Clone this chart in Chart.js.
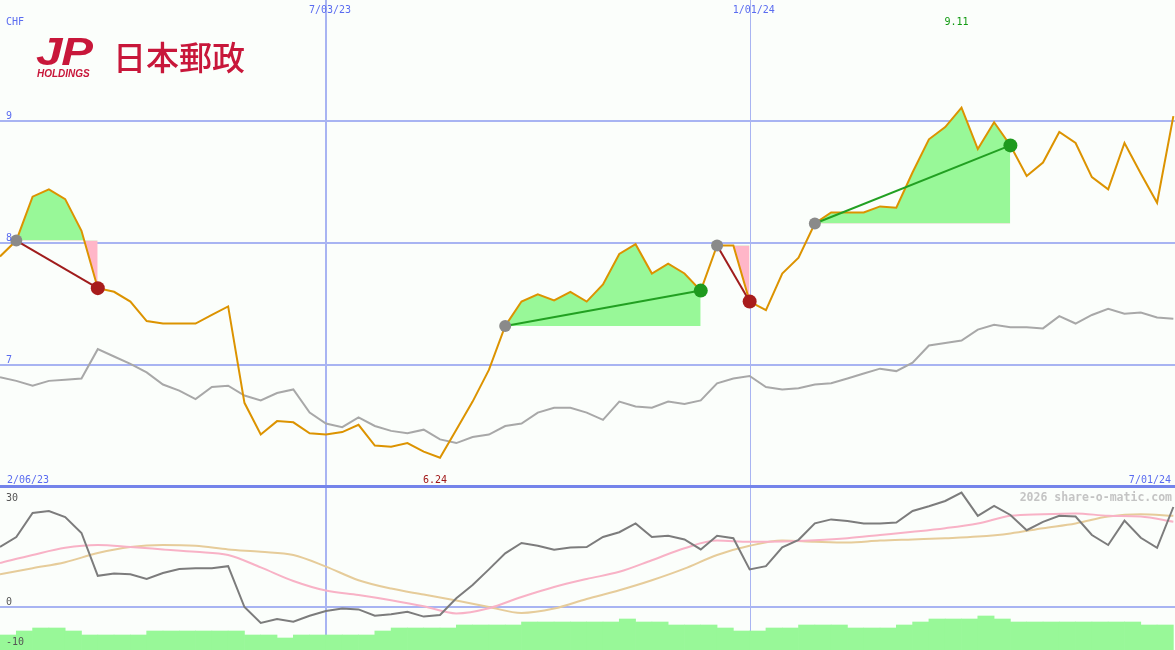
<!DOCTYPE html>
<html>
<head>
<meta charset="utf-8">
<script src="https://cdn.jsdelivr.net/npm/chart.js@4.4.1/dist/chart.umd.min.js"></script>
<style>
  body { margin: 0; background: #fbfefb; }
  #wrap { position: relative; width: 1175px; height: 650px; overflow: hidden; background: #fbfefb; }
  #priceChart { position: absolute; left: 0; top: 0; }
  #oscChart { position: absolute; left: 0; top: 487px; }
  .sep { position: absolute; left: 0; top: 485px; width: 1175px; height: 3px; background: #7484ea; }
  .logo { position: absolute; color: #c8173a; line-height: 1; white-space: nowrap; }
  .jp { left: 36px; top: 30px; font: italic bold 39px "Liberation Sans", sans-serif; letter-spacing: -1px; transform: scaleX(1.22); transform-origin: left top; }
  .hold { left: 37px; top: 68px; font: italic bold 10px "Liberation Sans", sans-serif; }
  .kanji { left: 113px; top: 32px; font: 500 33px "Noto Sans CJK JP", sans-serif; }
</style>
</head>
<body>
<div id="wrap">
  <canvas id="priceChart" width="1175" height="487"></canvas>
  <canvas id="oscChart" width="1175" height="163"></canvas>
  <div class="sep"></div>
  <div class="logo jp">JP</div>
  <div class="logo hold">HOLDINGS</div>
  <div class="logo kanji">日本郵政</div>
</div>
<script>
// weekly closes, CHF (week 0 = 13 Feb 2023 ... week 72 = 1 Jul 2024)
const priceClose = [
  7.89, 8.02, 8.38, 8.44, 8.36, 8.10, 7.63, 7.60, 7.52, 7.36,
  7.34, 7.34, 7.34, 7.41, 7.48, 6.69, 6.43, 6.54, 6.53, 6.44,
  6.43, 6.45, 6.51, 6.34, 6.33, 6.36, 6.29, 6.24, 6.47, 6.70,
  6.96, 7.32, 7.52, 7.58, 7.53, 7.60, 7.52, 7.66, 7.91, 7.99,
  7.75, 7.83, 7.75, 7.61, 7.98, 7.98, 7.52, 7.45, 7.75, 7.88,
  8.16, 8.25, 8.25, 8.25, 8.30, 8.29, 8.58, 8.85, 8.95, 9.11,
  8.77, 8.99, 8.80, 8.55, 8.66, 8.91, 8.82, 8.54, 8.44, 8.82,
  8.57, 8.33, 9.04
];
// comparison index, rebased to CHF
const peerIndex = [
  6.90, 6.87, 6.83, 6.87, 6.88, 6.89, 7.13, 7.07, 7.01, 6.94,
  6.84, 6.79, 6.72, 6.82, 6.83, 6.75, 6.71, 6.77, 6.80, 6.61,
  6.52, 6.49, 6.57, 6.50, 6.46, 6.44, 6.47, 6.39, 6.36, 6.41,
  6.43, 6.50, 6.52, 6.61, 6.65, 6.65, 6.61, 6.55, 6.70, 6.66,
  6.65, 6.70, 6.68, 6.71, 6.85, 6.89, 6.91, 6.82, 6.80, 6.81,
  6.84, 6.85, 6.89, 6.93, 6.97, 6.95, 7.02, 7.16, 7.18, 7.20,
  7.29, 7.33, 7.31, 7.31, 7.30, 7.40, 7.34, 7.41, 7.46, 7.42,
  7.43, 7.39, 7.38
];
const momentum = [
  15.0, 17.5, 23.5, 24.0, 22.5, 18.5, 7.8, 8.4, 8.2, 7.0,
  8.5, 9.5, 9.7, 9.7, 10.2, 0.0, -4.0, -3.0, -3.7, -2.2,
  -1.0, -0.4, -0.6, -2.2, -1.8, -1.2, -2.4, -2.0, 2.2, 5.5,
  9.4, 13.4, 16.0, 15.3, 14.3, 14.9, 15.0, 17.5, 18.7, 20.9,
  17.5, 17.8, 16.9, 14.4, 17.8, 17.2, 9.4, 10.2, 14.9, 16.8,
  20.9, 21.9, 21.5, 20.9, 20.9, 21.1, 24.0, 25.2, 26.5, 28.6,
  22.8, 25.3, 23.0, 19.2, 21.3, 22.8, 22.6, 18.0, 15.5, 21.6,
  17.3, 14.8, 25.0
];
const maWeeks = [0, 2, 4, 6, 8, 10, 12, 14, 16, 18, 20, 22, 24, 26, 28, 30, 32, 34, 36,
                 38, 40, 42, 44, 46, 48, 50, 52, 54, 56, 58, 60, 62, 64, 66, 68, 70, 72];
const maFast = [11.0, 13.0, 14.8, 15.5, 15.0, 14.4, 13.8, 13.0, 9.9, 6.5, 4.1, 3.0, 1.7, 0.2, -1.6, -0.3, 2.5, 5.0, 7.0,
                8.8, 11.7, 14.7, 16.6, 16.3, 16.4, 16.7, 17.2, 18.0, 18.8, 19.7, 20.9, 22.8, 23.2, 23.4, 22.8, 22.6, 21.3];
const maSlow = [8.2, 9.7, 11.2, 13.5, 15.0, 15.5, 15.3, 14.4, 13.8, 13.0, 10.1, 6.7, 4.6, 3.1, 1.6, 0.0, -1.5, -0.4, 2.0,
                4.2, 6.7, 9.6, 13.0, 15.3, 16.6, 16.3, 16.1, 16.6, 16.9, 17.2, 17.6, 18.4, 19.7, 20.9, 22.6, 23.2, 22.8];
const volume = [
  150, 190, 220, 220, 190, 150, 150, 150, 150, 190,
  190, 190, 190, 190, 190, 150, 150, 120, 150, 150,
  150, 150, 150, 190, 220, 220, 220, 220, 250, 250,
  250, 250, 280, 280, 280, 280, 280, 280, 310, 280,
  280, 250, 250, 250, 220, 190, 190, 220, 220, 250,
  250, 250, 220, 220, 220, 250, 280, 310, 310, 310,
  340, 310, 280, 280, 280, 280, 280, 280, 280, 280,
  250, 250
];
// signals: [entry week, exit week]
const trades = [[1, 6], [31, 43], [44, 46], [50, 62]];
const markWeeks = [20, 46];
const markLabels = ['7/03/23', '1/01/24'];
const priceTicks = [9, 8, 7];
const oscTicks = [30, 0, -10];
const startLabel = '2/06/23';
const endLabel = '7/01/24';

const FONT = '10px "DejaVu Sans Mono", monospace';
const BLUE = '#5a6cf0';
const GRID = '#a8b4f2';
const hiWeek = priceClose.indexOf(Math.max(...priceClose));
const loWeek = priceClose.indexOf(Math.min(...priceClose));
const pts = (arr, xs) => arr.map((v, i) => ({ x: xs ? xs[i] : i, y: v }));

function gridLayer(hVals) {
  return {
    id: 'gridLayer',
    beforeDatasetsDraw(chart) {
      const { ctx, chartArea: a, scales } = chart;
      ctx.save();
      ctx.strokeStyle = GRID;
      ctx.lineWidth = 2;
      hVals.forEach(v => {
        const y = Math.round(scales.y.getPixelForValue(v));
        ctx.beginPath(); ctx.moveTo(a.left, y); ctx.lineTo(a.right, y); ctx.stroke();
      });
      markWeeks.forEach((w, k) => {
        const x = Math.round(scales.x.getPixelForValue(w));
        ctx.lineWidth = k === 0 ? 2 : 1;
        const xx = k === 0 ? x : x + 0.5;
        ctx.beginPath(); ctx.moveTo(xx, a.top); ctx.lineTo(xx, a.bottom); ctx.stroke();
      });
      ctx.restore();
    }
  };
}

function textLayer(build) {
  return {
    id: 'textLayer',
    afterDatasetsDraw(chart) {
      const ctx = chart.ctx;
      ctx.save();
      build(chart).forEach(t => {
        ctx.font = t.font || FONT;
        ctx.fillStyle = t.color;
        ctx.textAlign = t.align || 'left';
        ctx.textBaseline = 'alphabetic';
        ctx.fillText(t.text, t.x, t.y);
      });
      ctx.restore();
    }
  };
}

const baseOpts = (yScales) => ({
  responsive: false,
  animation: false,
  events: [],
  layout: { padding: 0, autoPadding: false },
  plugins: { legend: { display: false }, tooltip: { enabled: false } },
  scales: Object.assign({ x: { type: 'linear', display: false, offset: false, min: 0, max: 72.1 } }, yScales)
});

// ---------- price panel ----------
const tradeLines = trades.map(([a, b]) => {
  const win = priceClose[b] > priceClose[a];
  return {
    data: [{ x: a, y: priceClose[a] }, { x: b, y: priceClose[b] }],
    borderColor: win ? '#22a022' : '#a01c1c',
    borderWidth: 2,
    pointRadius: [6, 7],
    pointBorderWidth: 0,
    pointBackgroundColor: ['#8a8a8a', win ? '#1e9a1e' : '#a81c1c'],
    fill: false,
    clip: 8
  };
});
const tradeFills = trades.map(([a, b]) => ({
  data: pts(priceClose.slice(a, b + 1)).map(p => ({ x: p.x + a, y: p.y })),
  borderWidth: 0,
  borderColor: 'rgba(0,0,0,0)',
  pointRadius: 0,
  fill: { target: { value: priceClose[a] }, above: '#98f898', below: '#ffb6c8' }
}));

new Chart(document.getElementById('priceChart'), {
  type: 'line',
  data: {
    datasets: [
      ...tradeLines,
      { data: pts(priceClose), borderColor: '#dc9300', borderWidth: 2, pointRadius: 0, fill: false },
      { data: pts(peerIndex), borderColor: '#a8a8a8', borderWidth: 2, pointRadius: 0, fill: false },
      ...tradeFills
    ]
  },
  options: baseOpts({ y: { display: false, min: 6.0, max: 9.992 } }),
  plugins: [
    gridLayer(priceTicks),
    textLayer(chart => {
      const x = chart.scales.x, y = chart.scales.y;
      return [
        { text: 'CHF', x: 6, y: 25, color: BLUE },
        ...priceTicks.map(v => ({ text: String(v), x: 6, y: y.getPixelForValue(v) - 2, color: BLUE })),
        ...markWeeks.map((w, k) => ({ text: markLabels[k], x: x.getPixelForValue(w) - 17, y: 13, color: BLUE })),
        { text: priceClose[hiWeek].toFixed(2), x: x.getPixelForValue(hiWeek) - 17, y: 25, color: '#119a11' },
        { text: startLabel, x: 7, y: 483, color: BLUE },
        { text: priceClose[loWeek].toFixed(2), x: x.getPixelForValue(loWeek) - 17, y: 483, color: '#a01818' },
        { text: endLabel, x: 1171, y: 483, align: 'right', color: BLUE }
      ];
    })
  ]
});

// ---------- oscillator panel ----------
new Chart(document.getElementById('oscChart'), {
  type: 'line',
  data: {
    datasets: [
      { data: pts(momentum), borderColor: '#7c7c7c', borderWidth: 2, pointRadius: 0, fill: false },
      { data: pts(maFast, maWeeks), borderColor: '#f8b2c6', borderWidth: 2, pointRadius: 0, fill: false, cubicInterpolationMode: 'monotone' },
      { data: pts(maSlow, maWeeks), borderColor: '#e6cc9a', borderWidth: 2, pointRadius: 0, fill: false, cubicInterpolationMode: 'monotone' },
      { type: 'bar', yAxisID: 'yv', data: volume.map((v, i) => ({ x: i + 0.5, y: v })),
        backgroundColor: '#98f898', borderWidth: 0, barPercentage: 1, categoryPercentage: 1 }
    ]
  },
  options: baseOpts({
    y: { display: false, min: -10.75, max: 30 },
    yv: { display: false, min: 0, max: 1630 }
  }),
  plugins: [
    gridLayer([0]),
    textLayer(chart => {
      const y = chart.scales.y;
      return [
        ...oscTicks.map(v => ({ text: String(v), x: 6, y: Math.min(Math.max(14, y.getPixelForValue(v) - 2), 159), color: '#555555' })),
        { text: '2026 share-o-matic.com', x: 1172, y: 14, align: 'right', color: '#c4c4c4', font: 'bold 11.5px "DejaVu Sans Mono", monospace' }
      ];
    })
  ]
});
</script>
</body>
</html>
